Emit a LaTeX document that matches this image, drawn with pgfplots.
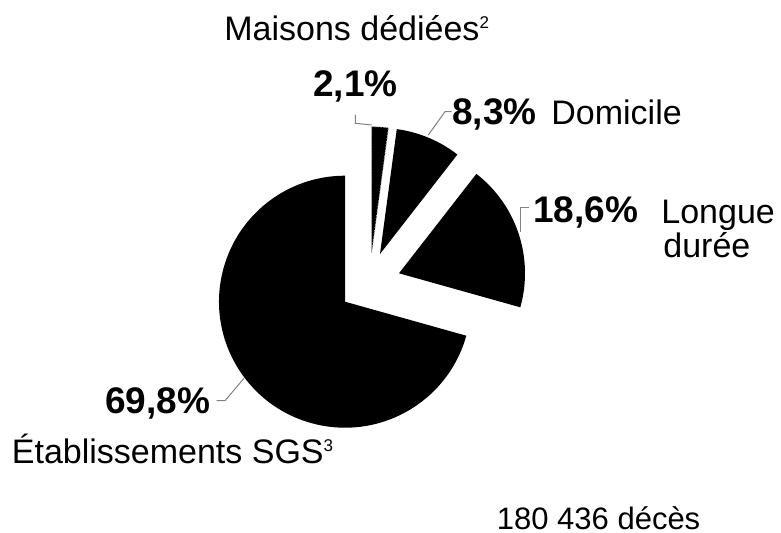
\documentclass[border=0pt]{standalone}
\usepackage{fontspec}
\setmainfont{Liberation Sans}
\usepackage{pgfplots}
\pgfplotsset{compat=1.18}
\newcommand\smallsup[1]{\raisebox{6.2pt}{\fontsize{8.5}{10}\selectfont #1}}
\begin{document}
\begin{tikzpicture}
% data (percentages)
\def\vA{2.1}  % Maisons dédiées
\def\vB{8.3}  % Domicile
\def\vC{18.6} % Longue durée
\def\vD{69.8} % Établissements SGS
\pgfmathsetmacro\tot{\vA+\vB+\vC+\vD}
\pgfmathsetmacro\k{360/\tot}
\pgfmathsetmacro\aZero{90}
\pgfmathsetmacro\aOne{\aZero-\k*\vA}
\pgfmathsetmacro\aTwo{\aOne-\k*\vB}
\pgfmathsetmacro\aThree{\aTwo-\k*\vC}
\pgfmathsetmacro\aFour{\aThree-\k*\vD}
\def\R{63pt}
\useasboundingbox (0,0) rectangle (390.5pt,266.5pt);
\begin{axis}[hide axis, scale only axis, x=0.5pt, y=0.5pt,
  xmin=0, xmax=781, ymin=0, ymax=533, clip=false,
  anchor=south west, at={(0,0)}]
% slices
\fill[black] (axis cs:345,231.3) -- +(\aThree:\R) arc[start angle=\aThree, end angle=\aFour, radius=\R] -- cycle;
\fill[black] (axis cs:399,259.7) -- +(\aTwo:\R) arc[start angle=\aTwo, end angle=\aThree, radius=\R] -- cycle;
\fill[black] (axis cs:380,279) -- +(\aOne:\R) arc[start angle=\aOne, end angle=\aTwo, radius=\R] -- cycle;
\filldraw[fill=black, draw=gray!60, densely dotted, line width=0.5pt] (axis cs:371.7,280.3) -- +(\aZero:\R) arc[start angle=\aZero, end angle=\aOne, radius=\R] -- cycle;
% leader lines
\draw[gray, line width=0.5pt] (axis cs:355.3,418) -- (axis cs:355.3,409.7) -- (axis cs:371.7,408);
\draw[gray, line width=0.5pt] (axis cs:451.7,421.3) -- (axis cs:445,421.3) -- (axis cs:428.3,398);
\draw[gray, line width=0.5pt] (axis cs:529,325) -- (axis cs:520,325) -- (axis cs:520,301);
\draw[gray, line width=0.5pt] (axis cs:216.7,132.3) -- (axis cs:225,132.3) -- (axis cs:244,154.7);
% labels
\tikzset{lbl/.style={anchor=base west, inner sep=0pt, font=\fontsize{17}{20}\selectfont},
         pct/.style={anchor=base west, inner sep=0pt, font=\fontsize{18.5}{22}\selectfont\bfseries}}
\node[lbl] at (axis cs:224,492) {Maisons dédiées\smallsup{2}};
\node[pct] at (axis cs:313,436) {2,1\%};
\node[pct] at (axis cs:452,408.5) {8,3\%};
\node[lbl] at (axis cs:551,408.5) {Domicile};
\node[pct] at (axis cs:533,310.5) {18,6\%};
\node[lbl] at (axis cs:661,309.7) {Longue};
\node[lbl] at (axis cs:663,275.3) {durée};
\node[pct] at (axis cs:105,119.7) {69,8\%};
\node[lbl] at (axis cs:11.5,69) {Établissements SGS\smallsup{3}};
\node[anchor=base west, inner sep=0pt, font=\fontsize{15.5}{18}\selectfont] at (axis cs:496.5,3.7) {180 436 décès};
\end{axis}
\end{tikzpicture}
\end{document}
